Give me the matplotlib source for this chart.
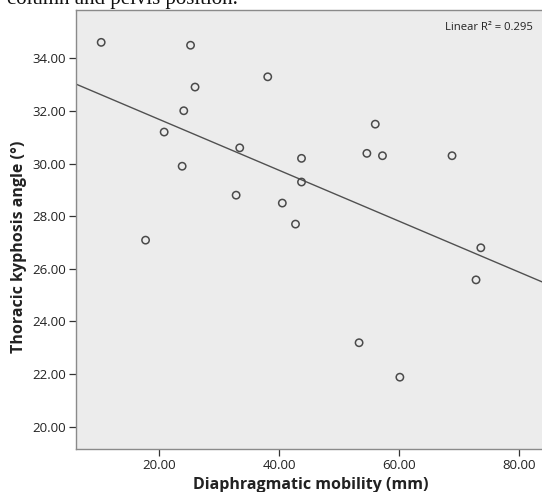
import numpy as np
import matplotlib
matplotlib.use("Agg")
import matplotlib.pyplot as plt

# Data
mobility = [10.3, 25.2, 25.95, 24.07, 20.8, 23.8, 38.07, 33.4, 43.7, 43.7, 32.8,
            40.5, 56.0, 54.6, 57.2, 68.8, 42.7, 73.6, 72.8, 53.3, 60.1, 17.7]
kyphosis = [34.61, 34.5, 32.91, 32.01, 31.2, 29.9, 33.3, 30.6, 30.2, 29.3, 28.8,
            28.5, 31.5, 30.39, 30.3, 30.3, 27.7, 26.8, 25.58, 23.19, 21.88, 27.09]
xticks = [20, 40, 60, 80]
yticks = [20, 22, 24, 26, 28, 30, 32, 34]
r2_label = "Linear R² = 0.295"

fam = ["Open Sans", "DejaVu Sans"]
plt.rcParams["font.family"] = fam

fig = plt.figure(figsize=(5.42, 4.92), dpi=100)
ax = fig.add_axes([76/542, 43/492, 1 - 76/542, 439/492])
ax.set_facecolor("#ececec")

xlim = (6.1, 83.8)
ax.set_xlim(*xlim)
ax.set_ylim(19.15, 35.84)

slope, intercept = np.polyfit(mobility, kyphosis, 1)
xs = np.array(xlim)
ax.plot(xs, slope * xs + intercept, color="#505050", lw=1.0, zorder=2)

ax.scatter(mobility, kyphosis, s=28, facecolors="none", edgecolors="#4a4a4a",
           linewidths=1.1, zorder=3)

ax.set_xticks(xticks)
ax.set_xticklabels([f"{v:.2f}" for v in xticks])
ax.set_yticks(yticks)
ax.set_yticklabels([f"{v:.2f}" for v in yticks])
ax.tick_params(axis="both", direction="out", length=5, width=0.9, color="#333333",
               labelsize=9.5, labelcolor="#222222", pad=2)

ax.spines["right"].set_visible(False)
for s in ["left", "bottom", "top"]:
    ax.spines[s].set_color("#8a8a8a")
    ax.spines[s].set_linewidth(1.0)

ax.set_xlabel("Diaphragmatic mobility (mm)", fontsize=11.5, fontweight="bold",
              color="#222222")
ax.set_ylabel("Thoracic kyphosis angle (°)", fontsize=11.5, fontweight="bold",
              color="#222222")
ax.xaxis.set_label_coords((311 - 76) / 466, -(485 - 449) / 439)
ax.yaxis.set_label_coords(-(76 - 19) / 466, (449 - 246.5) / 439)
ax.xaxis.label.set_va("center")
ax.yaxis.label.set_va("center")

fig.text(533/542, 1 - 28/492, r2_label, ha="right", va="center", fontsize=8.1,
         color="#222222")

fig.text(7/542, 1 - 4/492, "column and pelvis position.", ha="left",
         va="baseline", fontsize=15, family=["Liberation Serif", "DejaVu Serif"],
         color="#111111")

fig.savefig("out.png", dpi=100)
